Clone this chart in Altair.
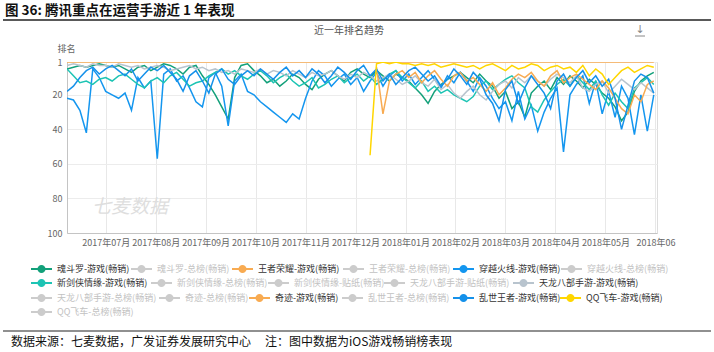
import altair as alt
import pandas as pd

FONT = "Noto Sans CJK SC"

# ---- data (rank, sampled every 4 days from 2017-06-20) ----
START = "2017-06-20"
N = 92

hundouluo = [5, 4, 3, 4, 3, 2, 3,
             4, 3, 5, 7, 4, 3, 6,
             4, 2, 3, 5, 8, 4, 3,
             9, 14, 20, 27, 34, 10, 3,
             2, 6, 9, 13, 11, 15, 12, 8, 10,
             14, 17, 11, 8, 6, 9, 12, 7,
             5, 8, 10, 6, 9, 12, 8, 10,
             12, 16, 20, 25, 18, 14, 11, 9,
             7, 10, 13, 8, 12, 15, 22, 18,
             28, 24, 33, 19, 15, 12, 17, 10,
             14, 9, 12, 16, 11, 14, 19, 22,
             27, 35, 30, 18, 12, 9, 7]

wangzhe = [1, 1, 1, 1, 1, 1, 1, 1, 1, 1, 1, 1, 1, 1, 1, 1, 1, 1, 1, 1, 1, 1, 1,
           1, 1, 1, 1, 1, 1, 1, 1, 1, 1, 1, 1, 1, 1, 1, 1, 1, 1, 1, 1, 1, 1, 1,
           1, 1, 1, 1, 1, 1, 1, 1, 1, 1, 1, 1, 1, 1, 1, 1, 1, 1, 1, 1, 1, 1, 1,
           1, 1, 1, 1, 1, 1, 1, 1, 1, 1, 1, 1, 1, 1, 1, 1, 1, 1, 1, 1, 1, 1, 1]

chuanyue = [22, 23, 29, 42, 5, 10, 18,
            20, 22, 19, 29, 10, 16, 12,
            57,
            8, 5, 12, 9, 16, 24, 27,
            10, 7, 15, 38, 12, 8, 18,
            20, 24, 27, 30, 33, 36, 31, 34,
            22, 12, 6, 9, 15, 11, 8, 14,
            10, 18, 12, 7, 15, 9, 6, 12,
            8, 14, 10, 6, 11, 16, 9, 13,
            7, 12, 18, 10, 15, 22, 28, 24,
            35, 18, 34, 26, 41, 30, 22, 16,
            53, 20, 14, 9, 25, 12, 31, 18,
            33, 15, 22, 43, 20, 41, 20]

xinjianxia = [5, 9, 13, 12, 14, 11, 10,
              12, 9, 8, 11, 14, 16, 12,
              10, 13, 9, 7, 11, 15, 13,
              12, 9, 7, 5, 8, 6, 9,
              11, 8, 6, 9, 13, 10, 8, 12, 15,
              13, 10, 16, 14, 11, 9, 13, 10,
              8, 12, 9, 14, 11, 8, 6, 10,
              13, 16, 12, 18, 15, 19, 17, 20,
              22, 24, 21, 15, 12, 17, 14, 11,
              9, 13, 16, 27, 30, 23, 18, 14,
              11, 15, 9, 13, 17, 12, 20, 26,
              19, 24, 28, 16, 13, 10, 14]

tianlong = [3, 2, 3, 4, 2, 3, 3, 4, 2, 3, 4,
            3, 5, 4, 3, 4, 6, 5, 4, 3, 5, 4,
            6, 5, 7, 6, 8, 5, 6, 7, 5, 8, 6,
            7, 9, 6, 8, 10, 7, 9, 8, 6, 9, 11,
            8, 10, 7, 9, 12, 10, 8, 11, 14, 12, 9,
            13, 15, 11, 17, 14, 19, 22, 18, 15, 20, 23,
            18, 14, 12, 16, 10, 13, 9, 12, 15, 11, 8,
            10, 13, 9, 16, 18, 14, 12, 19, 15, 11, 14,
            17, 13, 16, 19]

qiji = [None] * 48 + [4, 31,
        12, 8, 6, 10, 7, 13, 9,
        6, 11, 15, 9, 7, 12, 10,
        14, 18, 13, 20, 16, 11, 8,
        10, 7, 12, 15, 9, 6, 13,
        10, 8, 11, 14, 17, 12, 16,
        22, 28, 31, 20, 24, 14, 12]

luanshi = [18, 15, 10, 6, 4, 8, 5,
           3, 6, 9, 5, 12, 8, 4,
           6, 3, 7, 11, 18, 9, 6,
           12, 19, 8, 5, 11, 14, 9,
           6, 9, 5, 8, 11, 7, 4, 9, 6,
           10, 5, 8, 13, 9, 4, 7, 11,
           6, 3, 9, 5, 12, 8, 14, 10,
           6, 4, 8, 12, 9, 15, 11, 5,
           9, 14, 7, 11, 20, 25, 35, 17,
           12, 25, 16, 9, 14, 19, 28, 12,
           8, 15, 10, 6, 13, 9, 15, 11,
           22, 40, 26, 12, 8, 10, 19]

qqfeiche = [None] * 47 + [55,
            2, 1, 2, 1, 2, 2, 3,
            2, 3, 2, 4, 3, 2, 3,
            4, 3, 5, 3, 2, 4, 6,
            3, 5, 4, 2, 3, 6, 4,
            3, 5, 4, 7, 3, 9, 5,
            8, 14, 10, 6, 4, 7, 5,
            3, 4]

SERIES = {
    "魂斗罗-游戏(畅销)": hundouluo,
    "王者荣耀-游戏(畅销)": wangzhe,
    "穿越火线-游戏(畅销)": chuanyue,
    "新剑侠情缘-游戏(畅销)": xinjianxia,
    "天龙八部手游-游戏(畅销)": tianlong,
    "奇迹-游戏(畅销)": qiji,
    "乱世王者-游戏(畅销)": luanshi,
    "QQ飞车-游戏(畅销)": qqfeiche,
}

COLOR = {
    "魂斗罗-游戏(畅销)": "#13a07a",
    "王者荣耀-游戏(畅销)": "#f8ab52",
    "穿越火线-游戏(畅销)": "#1496ef",
    "新剑侠情缘-游戏(畅销)": "#1dc4b4",
    "天龙八部手游-游戏(畅销)": "#b8c4ce",
    "奇迹-游戏(畅销)": "#f8ab52",
    "乱世王者-游戏(畅销)": "#1591ea",
    "QQ飞车-游戏(畅销)": "#ffd600",
}
INACTIVE = "#cccccc"

LEGEND_ROWS = [
    ["魂斗罗-游戏(畅销)", "魂斗罗-总榜(畅销)", "王者荣耀-游戏(畅销)", "王者荣耀-总榜(畅销)",
     "穿越火线-游戏(畅销)", "穿越火线-总榜(畅销)"],
    ["新剑侠情缘-游戏(畅销)", "新剑侠情缘-总榜(畅销)", "新剑侠情缘-贴纸(畅销)",
     "天龙八部手游-贴纸(畅销)", "天龙八部手游-游戏(畅销)"],
    ["天龙八部手游-总榜(畅销)", "奇迹-总榜(畅销)", "奇迹-游戏(畅销)", "乱世王者-总榜(畅销)",
     "乱世王者-游戏(畅销)", "QQ飞车-游戏(畅销)"],
    ["QQ飞车-总榜(畅销)"],
]
# legend placement (layout only): x of each item relative to plot origin, y of each row
LEGEND_X = [
    [-37, 63, 164, 275, 385, 493],
    [-37, 83, 200, 316, 445],
    [-37, 91, 181, 274, 385, 492],
    [-37],
]
LEGEND_Y = [195.5, 209.5, 224.5, 238.5]

X_TICKS = [(2017, 7, 14), (2017, 8, 14), (2017, 9, 14), (2017, 10, 15), (2017, 11, 15),
           (2017, 12, 16), (2018, 1, 16), (2018, 2, 16), (2018, 3, 19), (2018, 4, 19),
           (2018, 5, 20), (2018, 6, 20)]
Y_TICKS = [1, 20, 40, 60, 80, 100]

FIG_TITLE = "图 36: 腾讯重点在运营手游近 1 年表现"
CHART_TITLE = "近一年排名趋势"
WATERMARK = "七麦数据"
FOOTER_1 = "数据来源：七麦数据，广发证券发展研究中心"
FOOTER_2 = "注：图中数据为iOS游戏畅销榜表现"

# ---- build table ----
dates = pd.date_range(START, periods=N, freq="4D")
rows = []
for name, vals in SERIES.items():
    assert len(vals) == N, (name, len(vals))
    for d, v in zip(dates, vals):
        if v is not None:
            rows.append({"date": d.strftime("%Y-%m-%dT00:00:00"), "series": name, "rank": v})
df = pd.DataFrame(rows)

x_enc = alt.X(
    "date:T",
    scale=alt.Scale(domain=[alt.DateTime(year=2017, month=6, date=20),
                            alt.DateTime(year=2018, month=6, date=21)]),
    axis=alt.Axis(values=[alt.DateTime(year=a, month=b, date=c) for a, b, c in X_TICKS],
                  format="%Y年%m月",
                  labelExpr="indexof(datum.label, '2018年06') == 0 ? '2018年06' : datum.label",
                  title=None, grid=True, gridColor="#e8e8e8", domainColor="#c4c4c4",
                  ticks=False, labelFontSize=9, labelColor="#666666", labelPadding=5,
                  labelFlush=False, labelOverlap=False, labelFont=FONT),
)
y_enc = alt.Y(
    "rank:Q",
    scale=alt.Scale(domain=[1, 100], reverse=True, nice=False, zero=False),
    axis=alt.Axis(values=Y_TICKS, title="排名", titleAngle=0, titleX=-1, titleY=-14,
                  titleAlign="center", titleBaseline="middle", titleFontSize=9,
                  titleColor="#666666", titleFontWeight="normal", titleFont=FONT,
                  labelFontSize=9, labelColor="#666666", ticks=False, domainColor="#c4c4c4",
                  gridColor="#ececec", labelPadding=5, labelFont=FONT),
)

SYM = "M-1,0H1M0.3,0A0.3,0.3,0,1,1,-0.3,0A0.3,0.3,0,1,1,0.3,0Z"

layers = []
for r, row in enumerate(LEGEND_ROWS):
    for c, item in enumerate(row):
        color = COLOR.get(item, INACTIVE)
        legend = alt.Legend(
            orient="none", legendX=LEGEND_X[r][c], legendY=LEGEND_Y[r],
            direction="horizontal", title=None, symbolType=SYM, symbolSize=441,
            symbolStrokeWidth=1.8, symbolFillColor=color, symbolStrokeColor=color,
            labelFontSize=9, labelFont=FONT, labelOffset=4, padding=0, labelLimit=0,
            labelColor="#333333" if item in COLOR else "#c2c2c2",
        )
        data = df[df["series"] == item]
        if len(data) == 0:
            data = pd.DataFrame({"date": [dates[0].strftime("%Y-%m-%dT00:00:00")],
                                 "series": [item], "rank": [None]})
        layers.append(
            alt.Chart(data).mark_line(strokeWidth=1.5, clip=True).encode(
                x=x_enc, y=y_enc,
                color=alt.Color("series:N", scale=alt.Scale(domain=[item], range=[color]),
                                legend=legend),
            )
        )

def text_layer(txt, x, y, **kw):
    return alt.Chart(pd.DataFrame({"t": [txt]})).mark_text(**kw).encode(
        x=alt.value(x), y=alt.value(y), text="t:N")

def hrule(x1, x2, y, **kw):
    return alt.Chart(pd.DataFrame({"a": [0]})).mark_rule(**kw).encode(
        x=alt.value(x1), x2=alt.value(x2), y=alt.value(y))

decor = [
    text_layer(FIG_TITLE, -62, -51, align="left", baseline="middle", fontSize=13.5,
               fontWeight="bold", color="#111111", font=FONT),
    hrule(-64, 644, -42, color="#222222", strokeWidth=1.5),
    text_layer(CHART_TITLE, 282, -31, align="center", baseline="middle", fontSize=10,
               color="#555555", font=FONT),
    text_layer("↓", 573, -32, align="center", baseline="middle", fontSize=11,
               color="#888888", font="DejaVu Sans"),
    hrule(568, 578, -26, color="#888888", strokeWidth=1),
    text_layer(WATERMARK, 25, 145, align="left", baseline="middle", fontSize=19,
               fontStyle="italic", color="#dedede", font=FONT),
    hrule(-64, 644, 269, color="#222222", strokeWidth=1.2),
    text_layer(FOOTER_1, -56, 280, align="left", baseline="middle", fontSize=12,
               color="#111111", font=FONT),
    text_layer(FOOTER_2, 198, 280, align="left", baseline="middle", fontSize=12,
               color="#111111", font=FONT),
]

chart = alt.layer(*layers, *decor).resolve_scale(color="independent").properties(
    width=590, height=171,
    padding={"left": 67, "top": 62, "right": 57, "bottom": 119},
    autosize=alt.AutoSizeParams(type="none"),
    background="white",
).configure_view(stroke=None).configure(font=FONT)

chart.save("out.html", embed_options={"renderer": "svg", "actions": False})
